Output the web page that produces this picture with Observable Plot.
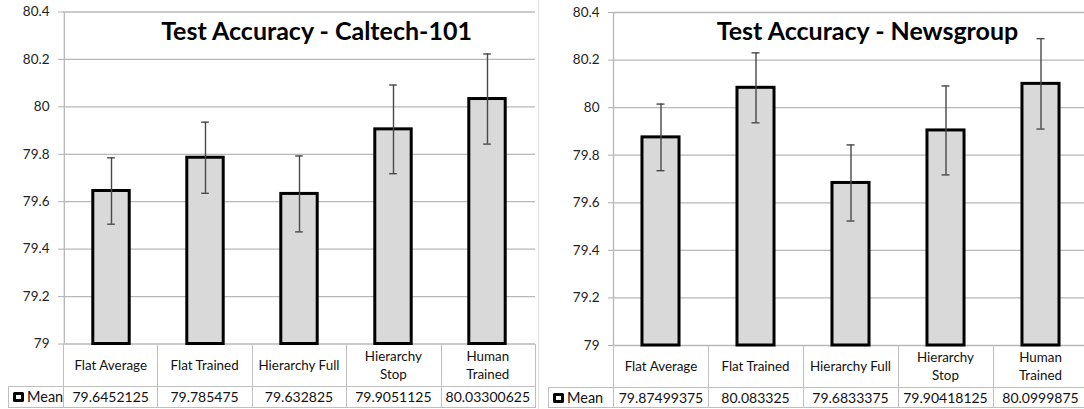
<!DOCTYPE html>
<html><head><meta charset="utf-8">
<script src="https://cdn.jsdelivr.net/npm/d3@7"></script>
<script src="https://cdn.jsdelivr.net/npm/@observablehq/plot@0.6"></script>
<style>
body{margin:0;background:#fff;}
#root{position:relative;width:1084px;height:409px;overflow:hidden;background:#fff;font-family:Lato,sans-serif;}
.panel{position:absolute;top:0;height:409px;overflow:hidden;}
.panel svg{position:absolute;left:0;top:0;overflow:visible;}
.cell{position:absolute;box-sizing:border-box;display:flex;align-items:center;justify-content:center;text-align:center;color:#111;white-space:pre-line;border-color:#bfbfbf;border-style:solid;border-width:0;}
.cat{font-size:13.4px;line-height:18px;}
.val{font-size:14px;}
.lbl{justify-content:flex-start;padding-left:4px;font-size:14.5px;}
.key{display:inline-block;width:11px;height:10px;box-sizing:border-box;border:3px solid #000;border-radius:1.5px;margin-right:3px;}
g[aria-label="y-axis tick"]{color:#b0b0b0;}
.sep{position:absolute;left:538px;top:0;width:1px;height:409px;background:#e2e2e2;}
</style></head>
<body><div id="root"></div>
<script>
const categories = ["Flat Average", "Flat Trained", "Hierarchy Full", "Hierarchy Stop", "Human Trained"];
const categoryLabels = ["Flat Average", "Flat Trained", "Hierarchy Full", "Hierarchy\nStop", "Human\nTrained"];
const caltechMean = [79.6452125, 79.785475, 79.632825, 79.9051125, 80.03300625];
const caltechErr = [0.14, 0.15, 0.16, 0.187, 0.19];
const newsMean = [79.87499375, 80.083325, 79.6833375, 79.90418125, 80.0999875];
const newsErr = [0.14, 0.147, 0.16, 0.187, 0.19];
const yTicks = [79, 79.2, 79.4, 79.6, 79.8, 80, 80.2, 80.4];
const yTickLabels = ["79", "79.2", "79.4", "79.6", "79.8", "80", "80.2", "80.4"];
const seriesName = "Mean";

const panels = [
  {title: "Test Accuracy - Caltech-101", means: caltechMean, errs: caltechErr,
   left: 0, width: 540, marginLeft: 63, marginRight: 5, marginTop: 11.5, axisBottom: 343.5, titleX: 316},
  {title: "Test Accuracy - Newsgroup", means: newsMean, errs: newsErr,
   left: 540, width: 548, marginLeft: 73, marginRight: 0, marginTop: 12, axisBottom: 345, titleX: 327}
];

const root = document.getElementById("root");
const grid = "#b8b8b8";

for (const p of panels) {
  const data = categories.map((c, i) => ({cat: c, mean: p.means[i], err: p.errs[i]}));
  const height = p.axisBottom + 3;
  const colW = (p.width - p.marginLeft - p.marginRight) / categories.length;
  const chart = Plot.plot({
    width: p.width, height,
    marginLeft: p.marginLeft, marginRight: p.marginRight, marginTop: p.marginTop, marginBottom: 3,
    style: {fontFamily: "Lato, sans-serif", fontSize: "13.5px", color: "#222", background: "transparent", overflow: "visible"},
    x: {domain: categories, padding: 0, axis: null},
    y: {domain: [79, 80.4], ticks: yTicks, tickSize: 5, tickPadding: 9,
        tickFormat: d => yTickLabels[yTicks.findIndex(t => Math.abs(t - d) < 1e-9)], label: null},
    marks: [
      Plot.ruleY(yTicks, {stroke: grid, strokeWidth: 1.3}),
      Plot.ruleX([categories[0]], {x: d => d, dx: -colW / 2, stroke: grid, strokeWidth: 1.3}),
      Plot.barY(data, {x: "cat", y1: 79, y2: "mean", fill: "#d9d9d9", stroke: "#000", strokeWidth: 3,
        insetLeft: colW * 0.305, insetRight: colW * 0.305}),
      Plot.ruleX(data, {x: "cat", y1: d => d.mean - d.err, y2: d => d.mean + d.err, stroke: "#484848", strokeWidth: 1.4}),
      Plot.tickY(data, {x: "cat", y: d => d.mean - d.err, stroke: "#484848", strokeWidth: 1.4, insetLeft: colW / 2 - 4, insetRight: colW / 2 - 4}),
      Plot.tickY(data, {x: "cat", y: d => d.mean + d.err, stroke: "#484848", strokeWidth: 1.4, insetLeft: colW / 2 - 4, insetRight: colW / 2 - 4}),
      Plot.text([p.title], {text: d => d, frameAnchor: "top-left", dx: p.titleX - p.marginLeft, dy: 31.3 - p.marginTop,
        textAnchor: "middle", lineAnchor: "middle", fontSize: 25, fontWeight: "bold", fill: "#000"})
    ]
  });
  const panel = document.createElement("div");
  panel.className = "panel";
  panel.style.left = p.left + "px";
  panel.style.width = p.width + "px";
  panel.appendChild(chart);

  const catTop = p.axisBottom, catH = 42, meanTop = catTop + catH, meanH = 407 - meanTop;
  const addCell = (x, y, w, h, cls, html, borders) => {
    const d = document.createElement("div");
    d.className = "cell " + cls;
    Object.assign(d.style, {left: x + "px", top: y + "px", width: w + "px", height: h + "px", borderWidth: borders});
    d.innerHTML = html;
    panel.appendChild(d);
  };
  categories.forEach((c, i) => {
    const x = p.marginLeft + i * colW;
    addCell(x, catTop, colW + 1, catH + 1, "cat", categoryLabels[i], `0 1px 1px ${i === 0 ? 1 : 0}px`);
    addCell(x, meanTop, colW + 1, meanH + 1, "val", String(p.means[i]), `0 1px 1px ${i === 0 ? 1 : 0}px`);
  });
  addCell(8, meanTop, p.marginLeft - 8 + 1, meanH + 1, "lbl", `<span class="key"></span>${seriesName}`, "1px 0 1px 1px");
  root.appendChild(panel);
}
const sep = document.createElement("div");
sep.className = "sep";
root.appendChild(sep);
</script></body></html>
